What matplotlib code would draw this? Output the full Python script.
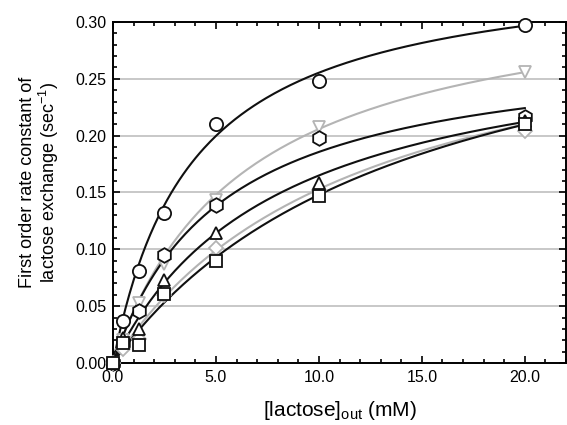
import numpy as np
import matplotlib
matplotlib.use("Agg")
import matplotlib.pyplot as plt
from matplotlib.ticker import MultipleLocator, FormatStrFormatter

plt.rcParams['font.family'] = ['Liberation Sans', 'DejaVu Sans']
plt.rcParams['mathtext.fontset'] = 'custom'
plt.rcParams['mathtext.rm'] = 'Liberation Sans'
plt.rcParams['mathtext.it'] = 'Liberation Sans:italic'

# concentrations (mM)
conc = [0.0, 0.5, 1.25, 2.5, 5.0, 10.0, 20.0]

# series values (sec^-1)
circle_vals   = [0.0, 0.037, 0.081, 0.132, 0.210, 0.248, 0.297]
invtri_vals   = [0.0, 0.020, 0.053, 0.087, 0.143, 0.208, 0.256]
hexagon_vals  = [0.0, 0.018, 0.046, 0.095, 0.139, 0.198, 0.216]
triangle_vals = [0.0, 0.022, 0.030, 0.073, 0.114, 0.158, 0.213]
diamond_vals  = [0.0, 0.012, 0.021, 0.060, 0.101, 0.152, 0.204]
square_vals   = [0.0, 0.018, 0.016, 0.061, 0.090, 0.147, 0.210]

# Michaelis-Menten fit parameters (Vmax, Km)
vmax = [0.354, 0.338, 0.283, 0.297, 0.335, 0.361]
km   = [3.86, 6.42, 5.24, 8.0, 11.9, 14.4]

series = [
    (circle_vals,   'o', '#101010', 9.5),
    (invtri_vals,   'v', '#b4b4b4', 9.0),
    (hexagon_vals,  'h', '#101010', 10.5),
    (diamond_vals,  'D', '#b4b4b4', 7.0),
    (triangle_vals, '^', '#101010', 9.0),
    (square_vals,   's', '#101010', 8.0),
]
fit_idx = [0, 1, 2, 4, 3, 5]

fig = plt.figure(figsize=(5.67, 4.25), dpi=100)
ax = fig.add_axes([113/567, 1-363/425, (566-113)/567, (363-22)/425])

xs = np.linspace(0, 20, 200)
for (vals, mk, col, ms), fi in zip(series, fit_idx):
    ax.plot(xs, vmax[fi]*xs/(km[fi]+xs), color=col, lw=1.5, zorder=3)
for (vals, mk, col, ms), fi in zip(series, fit_idx):
    ax.plot(conc, vals, linestyle='none', marker=mk, ms=ms, mfc='white',
            mec=col, mew=1.3, zorder=4, clip_on=False)

ax.set_xlim(0, 22)
ax.set_ylim(0, 0.30)
ax.xaxis.set_major_locator(MultipleLocator(5))
ax.xaxis.set_minor_locator(MultipleLocator(1))
ax.yaxis.set_major_locator(MultipleLocator(0.05))
ax.yaxis.set_minor_locator(MultipleLocator(0.01))
ax.xaxis.set_major_formatter(FormatStrFormatter('%.1f'))
ax.yaxis.set_major_formatter(FormatStrFormatter('%.2f'))
ax.set_xticks([0, 5, 10, 15, 20])

ax.yaxis.grid(True, color='#c4c4c4', lw=1.3)
ax.set_axisbelow(True)

ax.tick_params(which='both', direction='in', top=True, right=True,
               labelsize=11.5, width=1.2, pad=5)
ax.tick_params(which='major', length=5)
ax.tick_params(which='minor', length=3)
for s in ax.spines.values():
    s.set_linewidth(1.4)

ax.set_xlabel('[lactose]$_{\\mathrm{out}}$ (mM)', fontsize=15, labelpad=10)
ax.set_ylabel('First order rate constant of\nlactose exchange (sec$^{\\mathrm{-1}}$)',
              fontsize=13, linespacing=1.05)
ax.yaxis.set_label_coords(-0.115, 0.53)

fig.savefig('out.png', dpi=100)
